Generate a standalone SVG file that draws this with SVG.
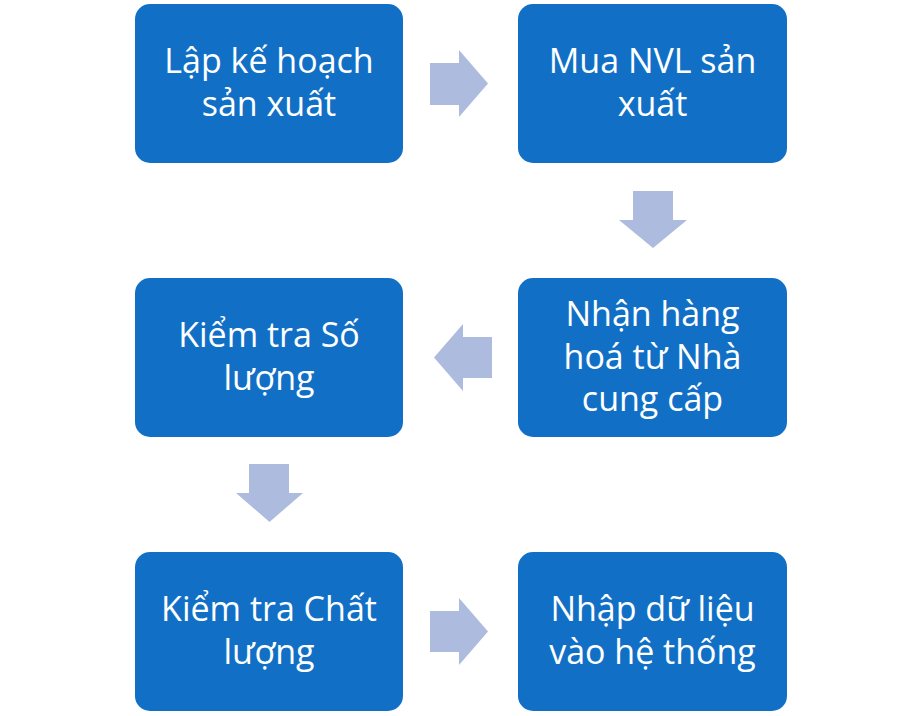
<svg xmlns="http://www.w3.org/2000/svg" width="922" height="716" viewBox="0 0 922 716">
<style>
.box{fill:#1170C6;}
.arr{fill:#ADBBDF;}
.t{font-family:"Open Sans","Noto Sans","DejaVu Sans",sans-serif;font-size:34px;fill:#FFFFFF;text-anchor:middle;}
</style>
<rect width="922" height="716" fill="#FFFFFF"/>
<g id="connectors">
<polygon class="arr" points="430,63 459,63 459,50 488,83.5 459,117 459,105 430,105"/>
<polygon class="arr" points="633,191 673,191 673,220 687,220 653,248 619,220 633,220"/>
<polygon class="arr" points="492,337 463,337 463,324 434,357.5 463,391 463,378 492,378"/>
<polygon class="arr" points="249,464 289,464 289,493 303,493 269.5,522 236,493 249,493"/>
<polygon class="arr" points="430,611 459,611 459,598 488,631.5 459,665 459,652 430,652"/>
</g>
<g id="node1">
<rect class="box" x="135" y="4" width="268" height="159" rx="15"/>
<text class="t" x="269" y="73">Lập kế hoạch</text>
<text class="t" x="269" y="116">sản xuất</text>
</g>
<g id="node2">
<rect class="box" x="518" y="4" width="269" height="159" rx="15"/>
<text class="t" x="652.5" y="73">Mua NVL sản</text>
<text class="t" x="652.5" y="116">xuất</text>
</g>
<g id="node3">
<rect class="box" x="518" y="278" width="269" height="159" rx="15"/>
<text class="t" x="652.5" y="326">Nhận hàng</text>
<text class="t" x="652.5" y="368.5">hoá từ Nhà</text>
<text class="t" x="652.5" y="411">cung cấp</text>
</g>
<g id="node4">
<rect class="box" x="135" y="278" width="268" height="159" rx="15"/>
<text class="t" x="269" y="347">Kiểm tra Số</text>
<text class="t" x="269" y="390">lượng</text>
</g>
<g id="node5">
<rect class="box" x="135" y="552" width="268" height="159" rx="15"/>
<text class="t" x="269" y="621">Kiểm tra Chất</text>
<text class="t" x="269" y="664">lượng</text>
</g>
<g id="node6">
<rect class="box" x="518" y="552" width="269" height="159" rx="15"/>
<text class="t" x="652.5" y="621">Nhập dữ liệu</text>
<text class="t" x="652.5" y="664">vào hệ thống</text>
</g>
</svg>
